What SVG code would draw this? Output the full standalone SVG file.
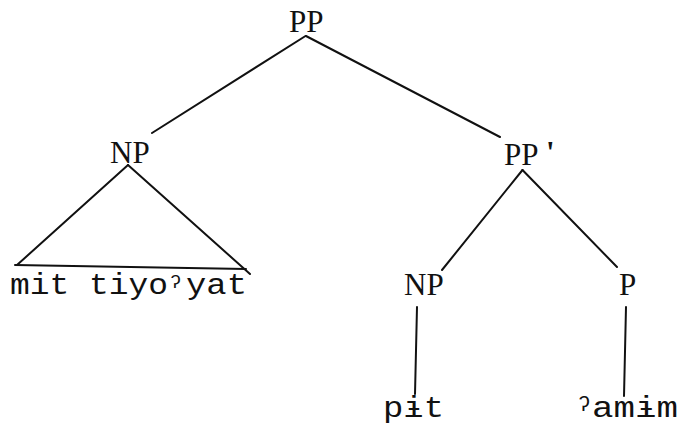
<svg xmlns="http://www.w3.org/2000/svg" width="681" height="435" viewBox="0 0 681 435">
<style>
text{font-family:"Liberation Serif","DejaVu Serif",serif;font-size:31px;fill:#111}
.w{font-family:"Liberation Mono","DejaVu Sans Mono",monospace;font-size:30px}
.g1{font-family:"Liberation Mono","DejaVu Sans Mono",monospace;font-size:19px}
.g2{font-family:"Liberation Mono","DejaVu Sans Mono",monospace;font-size:21px}
.ap{font-weight:bold}
line{stroke:#111;stroke-width:2;fill:none;stroke-linecap:round}
</style>
<rect width="681" height="435" fill="#fff"/>
<g id="connectors">
<line x1="305.5" y1="36" x2="152" y2="133"/>
<line x1="306" y1="36" x2="500" y2="137"/>
<line x1="128" y1="165" x2="17" y2="265"/>
<line x1="128" y1="165" x2="250" y2="274"/>
<line x1="15" y1="265" x2="246" y2="269"/>
<line x1="522.5" y1="170" x2="442" y2="270"/>
<line x1="522.5" y1="170" x2="617" y2="267"/>
<line x1="417" y1="307" x2="415" y2="394"/>
<line x1="626" y1="307" x2="624" y2="396"/>
</g>
<g id="n-pp"><text x="289" y="31.5">PP</text></g>
<g id="n-np1"><text x="110" y="163">NP</text></g>
<g id="n-ppbar"><text x="504" y="165">PP</text><text class="ap" x="546" y="163">'</text></g>
<g id="n-np2"><text x="404" y="295">NP</text></g>
<g id="n-p"><text x="619" y="295">P</text></g>
<g id="n-mit"><text class="w" x="10" y="294" textLength="158" lengthAdjust="spacingAndGlyphs">mit tiyo</text><text class="g1" x="170" y="288">ʔ</text><text class="w" x="186" y="294" textLength="61" lengthAdjust="spacingAndGlyphs">yat</text></g>
<g id="n-pit"><text class="w" x="383" y="416.5" textLength="61" lengthAdjust="spacingAndGlyphs">pɨt</text></g>
<g id="n-amim"><text class="g2" x="578" y="411">ʔ</text><text class="w" x="592" y="416.5" textLength="86" lengthAdjust="spacingAndGlyphs">amɨm</text></g>
</svg>
